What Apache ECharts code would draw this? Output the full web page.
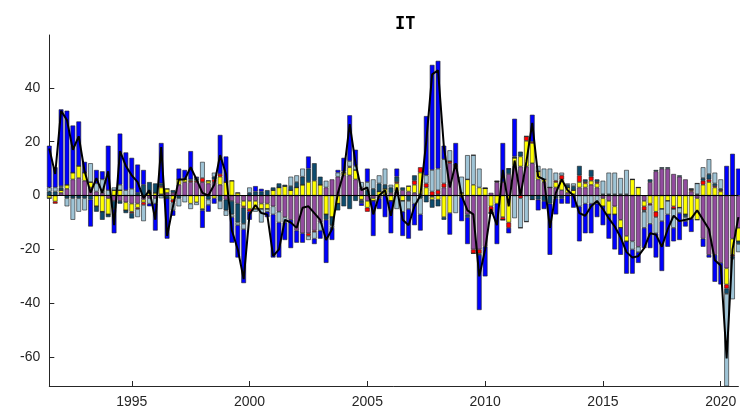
<!DOCTYPE html>
<html><head><meta charset="utf-8">
<script src="https://cdn.jsdelivr.net/npm/echarts@6/dist/echarts.min.js"></script>
<style>html,body{margin:0;padding:0;background:#fff}#c{width:740px;height:410px}</style>
</head><body><div id="c"></div>
<script>
// Quarterly data, first quarter = 1991Q3
const startYear = 1991, startQuarter = 3;
const xTickYears = [1995, 2000, 2005, 2010, 2015, 2020];
const yTicks = [-60, -40, -20, 0, 20, 40];

const purple = [
 0, 0, 1, 2.5, 6, 6.5, 5.5, 3, 1.5, 1,
 -1, -2, -2, -2.5, -3, -3, -1.5, -1, -1, 0.5,
 1, 1, 4, 5, 5, 5, 5, 4.5, 5, 4,
 -1.5, -2, -3, -2, -2, -2, -3, -3, -4, -6,
 -8, -9, -13, -14, -14, -13, -10, 3, 6, 7,
 7.5, 7.5, 6, 3, -2, -1, -1, 0.5, 1, 1.5,
 2, 1.5, 1, 0.5, 0, -0.5, 0.5, 3, 12, 11,
 0, -7, -20, -20, -19, 1, 5, 5, 8, 11,
 10.8, 10.8, 12, 6, 5, 3, 3, 2, 1, 0.5,
 3, 3, 4, 3, -1, -2, -4, -9, -15, -17,
 -19, -2, 5, 9, 10, 10, 8, 7, 6, 1.5,
 -1, -16, -22, -22, -25, -27, -16, -12
];
const yellow = [
 -1, -2.2, 1, 1.5, 2.5, 4.5, 3, 2, -4, -6,
 -6, 2, 2, -3, -3, -1.5, -1, 1, 1, 2.5,
 1.5, -1.5, 2, 1, -3, -2.5, -5, 1, -1, 3,
 5, 5.5, 1, -2, -3, -3, -2, -2, 2, 3,
 3.5, 2, 3, 4, 5, 5.5, 4, -7, -8, -3,
 1, 3, 3.5, -1.5, -2.5, -1, 1.5, 2, -2, 3,
 -2, 2, 3, 8, 3, -1, -1.5, -8, -6.5, 0,
 1, 6, 4, 3, 2.7, -4, -3, -8, -10, 3,
 3.7, 9.5, 7.5, 3, 1, 0, 2, 4, 2, 1.5,
 2, 1.5, 1.5, 1.5, -3, -5, -3, -3, -2, 6,
 3, -2, -3, -6, -5, -2, -4, -4.5, -7, -8.5,
 -8, 4, 5, 3, 1.5, -6, -6, -5
];
const red = [
 0, -0.8, 0, 0, 0, 0, 0, 0, 0, 0,
 0, 0, 0, 0, -0.5, -0.5, -1, 0, 0, 0.5,
 0, -1, 0, 0, 0.5, 0.5, 1.5, 0, 1, 1,
 0, 0, 0, -0.5, -1, 0, 0, 0, 0, 0,
 0, 0, 0, 0, -1, -0.5, 0, 0, 0, 0,
 0, 0.3, 0, -0.3, -1.5, 0, 0, 0, 0, 0.5,
 0, 0, 1.5, 2, 1.5, 1.5, 1.5, 1.5, 0.8, 0.5,
 0, 0, -1.5, -1.5, 0, -2.5, 0.3, -1, -2, 0,
 -1, 1.7, 0.5, 0, 0, 0, 0.5, 1.5, 0, 0,
 2.5, 0.5, 1.5, 0.5, 0, 0, 0, 0, 0, 0,
 0, -1.5, -0.5, -2, 0, 0, -1, 0, 0, 0.5,
 0, 1.5, 1, 0.5, 0.5, -1.5, -0.5, 0
];
const darkTeal = [
 1.5, 1.5, 1, -1, -1, -1, -1, -1.5, -2, -3,
 -1, -3, -1, -1, -2, 1, 4, 4, 3.5, 1,
 -1, 1, -1, 0.5, 0.5, 1, -0.5, -1.5, 1, -2,
 -4, -5, -7, -6, 1, 1.5, 1.5, 2, 1, 1.5,
 0.5, 1.5, 2, 3, 5, 6.5, 3, -2, -3, -2.5,
 -4, -5, -2, -1, 2, 2.5, 3, 1.5, 2, 2,
 1, -2, 2, -1, -2.5, -3, -2.5, -1, 0, 0,
 -0.5, -1, 0, -0.5, 0, 0, 0, 0, 2, 0.5,
 1.8, 0, -1.5, -1.5, -2, -3, -1, -1, 1, 1.5,
 3.5, 1, 2.5, 1, 0.5, 0.5, 0.5, 0.5, 0.5, 0,
 0, -0.5, 1, 0.5, 0.5, 0.5, 0, 0.5, -1, 0.5,
 0.5, 1, 2, 1, 0.5, -2, -1, -1
];
const lightBlue = [
 1.5, 1.5, 0.5, -3, -8, -5, -4.5, 7, 3, 5,
 2, 1, 2, 2, 2.5, -3, -6, -2, -2, -1,
 0, -3, -3, -2.5, -2, -1, 6, -2, 1.5, -3,
 -2, -1, -1, -2, 2, -1, -5, -1, -3, -4,
 -2, 3.5, 2.5, 3, -1.5, -2.5, -3, 2.5, -1, 1.5,
 0.5, 2, 1.5, 2, 3, 3.5, 3, 6, 1, -5,
 -4, -3, -3, -6, 3, 8, 8, 9, 4, -6.5,
 6, 9, 11, 7, 0, 0, 0, 0, 0, -8.4,
 -11, -9.7, 0, 2, 4, 7, 3, 1, 0.5, 1,
 -4, -3, -3, -3, 5, 8, 8, 6, 9, -3,
 -2, -6, -7, -6, -4.5, -5, -7, -2, -1.5, 0,
 4, 4, 5.5, 4, 3.5, -34.5, -15, -3
];
const blue = [
 15.5, 7.5, 28.5, 27.5, 17.5, 16.5, 4, -10, 5, 3,
 16.5, -9, 19, 14, 11.5, 10.5, 5.5, -1, -10, 15,
 -15, -2, 4, 3, 10.5, 0.5, -6.5, -2.5, -2, 14.5,
 9.5, -9.5, -12, -20, -3, 2, 1, -2, -16, -13,
 -6.5, -10.5, -4.5, -3.5, 4.5, -2, -3, -16, -4.5, 1,
 5, 17, 6, -1, 5, -13, -4, -8, -12, 3,
 -9, -11, -8, -6, 22, 39, 40, 5, -8, 8,
 -9, -10, 0, -20.5, -11, 0, -15, 14.5, -2, 14,
 0, 0, 10, -4, -3, -19, -6, -2, -3, -4.5,
 -13, -11, -11, -5, -7, -9, -13, -10, -12, -9,
 -4, -7.5, -9, -9, -18.5, -12, -5, -10, -2, -5,
 0, -3, -1, -10, -8, 11, 15.5, 10
];
const total = [
 17.5, 8, 31.5, 28, 17, 22, 9, 1, 6.5, 1,
 9, -11, 16.5, 11, 7.5, 5, -1, 2, -9, 18,
 -15, -4, 6, 6, 10.5, 6, 1, 0, 4, 15,
 8, -13, -20, -31, -7, -3.5, -6.5, -7, -22.5, -20,
 -9, -10, -12, -4.5, -4, -6.5, -9, -16.5, -12.5, 1,
 8.5, 26.5, 12, 2, 3, -7, 0, 2, -7.5, 3,
 -9, -11, -4, 0, 20, 45, 46.5, 18, 3, 12,
 0, -5.5, -7, -30, -20, -5, -11, 9.5, -4, 13,
 0, 12.5, 27, 7, 6, -12, 1, 6, 2, 0,
 -6.5, -7.5, -4, -2, -5, -8.5, -11.5, -15.5, -21, -23,
 -22.5, -19.5, -14, -14.5, -19, -12.5, -7.5, -9.5, -9, -8.5,
 -5.5, -9, -12.5, -24, -26, -60.5, -20, -8
];

// quarter category labels, e.g. "1991Q3"
const quarterLabels = total.map((_, i) => {
  const k = (startQuarter - 1) + i;
  return (startYear + Math.floor(k / 4)) + 'Q' + (k % 4 + 1);
});
const firstTime = startYear + (startQuarter - 1) / 4;
const lastTime = firstTime + (total.length - 1) / 4;

const components = [
  { name: 'purple', data: purple, color: '#924c9f' },
  { name: 'yellow', data: yellow, color: '#ffff00' },
  { name: 'red', data: red, color: '#ff0000' },
  { name: 'darkTeal', data: darkTeal, color: '#0e4c6e' },
  { name: 'lightBlue', data: lightBlue, color: '#9fc4d6' },
  { name: 'blue', data: blue, color: '#0000ff' }
];

const axisColor = '#262626';
const series = components.map(c => ({
  type: 'bar', name: c.name, stack: 'all', xAxisIndex: 0,
  data: c.data,
  barWidth: 4.7,
  itemStyle: { color: c.color, borderColor: '#1e1e1e', borderWidth: 0.6 },
  emphasis: { disabled: true }
}));
series.push({
  type: 'line', name: 'total', z: 5, xAxisIndex: 0,
  data: total,
  symbol: 'none',
  lineStyle: { color: '#000', width: 2 },
  markLine: {
    silent: true, symbol: 'none', label: { show: false },
    lineStyle: { color: '#000', width: 1, type: 'solid' },
    data: [{ yAxis: 0 }]
  }
});

const chart = echarts.init(document.getElementById('c'), null, { renderer: 'canvas' });
chart.setOption({
  animation: false,
  backgroundColor: '#fff',
  title: {
    text: 'IT', left: 390, top: 11,
    textStyle: { fontFamily: 'DejaVu Sans Mono', fontSize: 17, fontWeight: 'bold', color: '#000' }
  },
  grid: { left: 49.3, right: 1.6, top: 35, bottom: 24 },
  xAxis: [{
    type: 'category', data: quarterLabels, boundaryGap: false, show: false
  }, {
    type: 'value', min: firstTime, max: lastTime, position: 'bottom',
    axisLine: { show: true, onZero: false, lineStyle: { color: axisColor, width: 1 } },
    axisTick: { show: true, inside: true, length: 5, customValues: xTickYears, lineStyle: { color: axisColor } },
    axisLabel: { customValues: xTickYears, color: axisColor, fontSize: 14, fontFamily: 'Liberation Sans', margin: 9, formatter: v => String(v) },
    splitLine: { show: false }
  }],
  yAxis: {
    type: 'value', min: -70.7, max: 59.6,
    axisLine: { show: true, onZero: false, lineStyle: { color: axisColor, width: 1 } },
    axisTick: { show: true, inside: true, length: 5, customValues: yTicks, lineStyle: { color: axisColor } },
    axisLabel: { customValues: yTicks, color: axisColor, fontSize: 14, fontFamily: 'Liberation Sans', margin: 9, formatter: v => String(v) },
    splitLine: { show: false }
  },
  series: series
});
</script>
</body></html>
